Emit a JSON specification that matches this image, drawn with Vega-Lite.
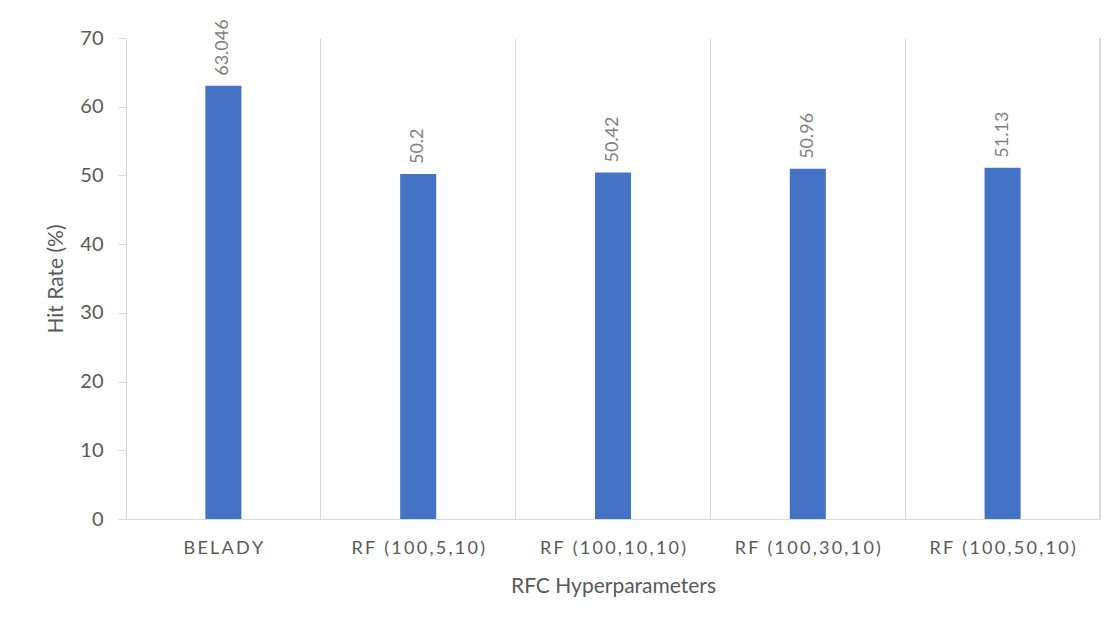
{
  "$schema": "https://vega.github.io/schema/vega-lite/v6.json",
  "autosize": "none",
  "width": 974,
  "height": 481,
  "padding": {"left": 126, "top": 38, "right": 20, "bottom": 109},
  "background": "white",
  "config": {
    "view": {"stroke": null},
    "font": "Lato"
  },
  "data": {
    "values": [
      {"config": "BELADY", "hit": 63.046},
      {"config": "RF (100,5,10)", "hit": 50.2},
      {"config": "RF (100,10,10)", "hit": 50.42},
      {"config": "RF (100,30,10)", "hit": 50.96},
      {"config": "RF (100,50,10)", "hit": 51.13}
    ]
  },
  "encoding": {
    "x": {
      "field": "config",
      "type": "nominal",
      "sort": null,
      "scale": {"paddingInner": 0, "paddingOuter": 0},
      "axis": {
        "title": "RFC Hyperparameters",
        "titleFont": "Lato",
        "titleFontSize": 21,
        "titleFontWeight": "normal",
        "titleColor": "#595959",
        "titlePadding": 18,
        "labelAngle": 0,
        "labelFont": "Lato",
        "labelFontSize": 18,
        "labelColor": "#595959",
        "labelPadding": 20,
        "labelExpr": "replace(datum.label, regexp('(.)(?!$)', 'g'), '$1\u2009')",
        "ticks": false,
        "grid": true,
        "gridColor": "#d9d9d9",
        "gridWidth": 1,
        "bandPosition": 0,
        "domainColor": "#d9d9d9",
        "domainWidth": 1
      }
    },
    "y": {
      "field": "hit",
      "type": "quantitative",
      "scale": {"domain": [0, 70], "nice": false},
      "axis": {
        "title": "Hit Rate (%)",
        "titleFont": "Lato",
        "titleFontSize": 21,
        "titleFontWeight": "normal",
        "titleColor": "#595959",
        "titlePadding": 13,
        "values": [0, 10, 20, 30, 40, 50, 60, 70],
        "labelFont": "Lato",
        "labelFontSize": 20,
        "labelColor": "#595959",
        "labelPadding": 15,
        "tickSize": 8,
        "tickColor": "#d9d9d9",
        "domainColor": "#d9d9d9",
        "grid": false
      }
    }
  },
  "layer": [
    {
      "mark": {"type": "bar", "width": {"band": 0.185}, "color": "#4472C4"}
    },
    {
      "mark": {
        "type": "text",
        "angle": 270,
        "align": "left",
        "baseline": "middle",
        "dx": 10,
        "font": "Lato",
        "fontSize": 18,
        "color": "#7f7f7f"
      },
      "encoding": {
        "text": {"field": "hit", "type": "quantitative", "format": ""}
      }
    },
    {
      "mark": {"type": "rule", "color": "#d9d9d9", "strokeWidth": 1},
      "encoding": {
        "x": {"datum": "RF (100,50,10)", "bandPosition": 1},
        "y": {"value": 0},
        "y2": {"value": 481}
      }
    }
  ]
}
